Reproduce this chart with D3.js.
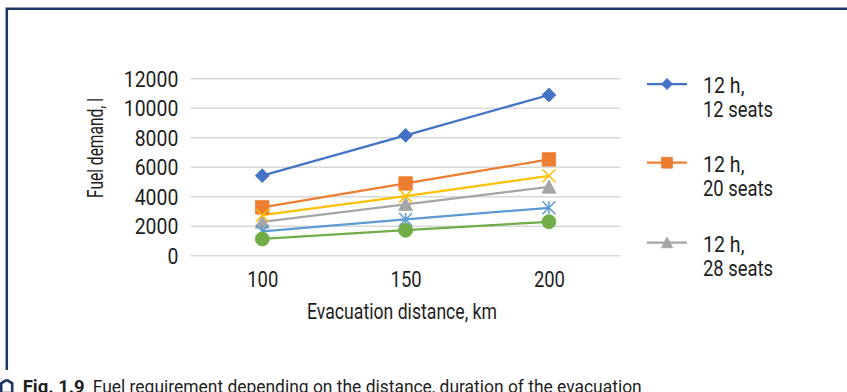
<!DOCTYPE html>
<html>
<head>
<meta charset="utf-8">
<script src="https://cdn.jsdelivr.net/npm/d3@7"></script>
<style>
  html, body { margin: 0; padding: 0; background: #fff; }
  svg { display: block; }
  text { font-family: "Roboto", "Noto Sans", sans-serif; fill: #1e1e1e; }
</style>
</head>
<body>
<svg id="chart" width="847" height="392"></svg>
<script>
// Evacuation distance categories (km)
const distances = ["100", "150", "200"];

// Fuel demand (litres) per series
const seriesNames = ["12 h, 12 seats", "12 h, 20 seats", "12 h, 28 seats", "series 4", "series 5", "series 6"];
const s12h12 = [5400, 8130, 10870];
const s12h20 = [3250, 4870, 6500];
const s12h28 = [2260, 3460, 4640];
const sYellow = [2720, 4010, 5390];
const sLightBlue = [1630, 2430, 3220];
const sGreen = [1110, 1700, 2270];

// Value-axis ticks
const yTicks = [0, 2000, 4000, 6000, 8000, 10000, 12000];

// Legend entries (two lines each)
const legendLabels = [["12 h,", "12 seats"], ["12 h,", "20 seats"], ["12 h,", "28 seats"]];

const svg = d3.select("#chart");

// Narrow the text to a given advance width (condensed typeface look)
function fitWidth(sel, w) {
  sel.each(function () {
    const target = typeof w === "function" ? w(this) : w;
    d3.select(this).attr("textLength", target).attr("lengthAdjust", "spacingAndGlyphs");
  });
}
const digitWidth = 10.9;

// Frame around the figure
svg.append("path")
  .attr("d", "M6.8,370 L6.8,8.7 L847,8.7")
  .attr("fill", "none")
  .attr("stroke", "#1c3764")
  .attr("stroke-width", 2.5);

const plot = { left: 190.6, right: 620.6, top: 78.3, bottom: 255.3 };

const x = d3.scaleBand().domain(distances).range([plot.left, plot.right]).paddingInner(0).paddingOuter(0);
const cx = d => x(d) + x.bandwidth() / 2;
const y = d3.scaleLinear().domain([0, 12000]).range([plot.bottom, plot.top]);

// Value axis with gridlines
const yAxis = svg.append("g")
  .attr("transform", `translate(${plot.left},0)`)
  .call(d3.axisLeft(y).tickValues(yTicks).tickFormat(d3.format("d"))
    .tickSize(-(plot.right - plot.left)).tickPadding(12.3));
yAxis.attr("font-family", null).attr("font-size", null);
yAxis.select(".domain").remove();
yAxis.selectAll("line").attr("stroke", "#d9d9d9").attr("stroke-width", 1.4);
yAxis.selectAll("text").attr("font-size", 22).attr("fill", "#1e1e1e").attr("dy", "0.355em")
  .call(fitWidth, node => node.textContent.length * digitWidth);

// Category axis
const xAxis = svg.append("g")
  .attr("transform", `translate(0,${plot.bottom})`)
  .call(d3.axisBottom(d3.scalePoint().domain(distances).range([cx("100"), cx("200")]))
    .tickSize(0).tickPadding(15.8));
xAxis.attr("font-family", null).attr("font-size", null);
xAxis.select(".domain").remove();
xAxis.selectAll("text").attr("font-size", 22).attr("fill", "#1e1e1e")
  .call(fitWidth, node => node.textContent.length * digitWidth * 0.95);

// Axis titles
svg.append("text")
  .attr("transform", "translate(103,148) rotate(-90)")
  .attr("text-anchor", "middle")
  .attr("font-size", 22)
  .text("Fuel demand, l")
  .call(fitWidth, 100);

svg.append("text")
  .attr("x", 402).attr("y", 318.5)
  .attr("text-anchor", "middle")
  .attr("font-size", 22)
  .text("Evacuation distance, km")
  .call(fitWidth, 190);

// Custom marker shapes
const diamond = {
  draw(ctx, size) {
    const r = Math.sqrt(size) / 2 * Math.SQRT2;
    ctx.moveTo(0, -r); ctx.lineTo(r, 0); ctx.lineTo(0, r); ctx.lineTo(-r, 0); ctx.closePath();
  }
};
const cross = {
  draw(ctx, size) {
    const r = Math.sqrt(size) / 2;
    ctx.moveTo(-r, -r); ctx.lineTo(r, r);
    ctx.moveTo(-r, r); ctx.lineTo(r, -r);
  }
};
const star = {
  draw(ctx, size) {
    const r = Math.sqrt(size) / 2;
    ctx.moveTo(-r, -r); ctx.lineTo(r, r);
    ctx.moveTo(-r, r); ctx.lineTo(r, -r);
    ctx.moveTo(0, -r); ctx.lineTo(0, r);
  }
};
const triangle = {
  draw(ctx, size) {
    const w = Math.sqrt(size);
    ctx.moveTo(0, -w * 0.5); ctx.lineTo(w / 2, w * 0.45); ctx.lineTo(-w / 2, w * 0.45); ctx.closePath();
  }
};

const series = [
  { name: seriesNames[0], values: s12h12, color: "#4472c4", shape: diamond, size: 96, filled: true },
  { name: seriesNames[1], values: s12h20, color: "#ed7d31", shape: d3.symbolSquare, size: 182, filled: true },
  { name: seriesNames[2], values: s12h28, color: "#a5a5a5", shape: triangle, size: 196, filled: true },
  { name: seriesNames[3], values: sYellow, color: "#ffc000", shape: cross, size: 169, filled: false },
  { name: seriesNames[4], values: sLightBlue, color: "#5b9bd5", shape: star, size: 169, filled: false },
  { name: seriesNames[5], values: sGreen, color: "#70ad47", shape: d3.symbolCircle, size: 154, filled: true }
];

const line = d3.line().x((d, i) => cx(distances[i])).y(d => y(d));

// Lines first, in series order
series.forEach(s => {
  svg.append("path")
    .datum(s.values)
    .attr("d", line)
    .attr("fill", "none")
    .attr("stroke", s.color)
    .attr("stroke-width", 2.25)
    .attr("stroke-linejoin", "round");
});

// Markers
series.forEach(s => {
  svg.append("g").selectAll("path")
    .data(s.values)
    .join("path")
    .attr("transform", (d, i) => `translate(${cx(distances[i])},${y(d)})`)
    .attr("d", d3.symbol().type(s.shape).size(s.size))
    .attr("fill", s.filled ? s.color : "none")
    .attr("stroke", s.color)
    .attr("stroke-width", s.filled ? 0.8 : 1.5);
});

// Legend
const legendY = [84, 162.7, 242.7];
const legend = svg.append("g");
legendLabels.forEach((lab, i) => {
  const s = series[i];
  const g = legend.append("g").attr("transform", `translate(0,${legendY[i]})`);
  g.append("line")
    .attr("x1", 647).attr("x2", 687)
    .attr("stroke", s.color).attr("stroke-width", 2.25);
  g.append("path")
    .attr("transform", "translate(667,0)")
    .attr("d", d3.symbol().type(s.shape).size(s.size * 0.65))
    .attr("fill", s.color).attr("stroke", s.color).attr("stroke-width", 0.8);
  g.append("text").attr("x", 703).attr("y", 8.8).attr("font-size", 22).text(lab[0]).call(fitWidth, 41.5);
  g.append("text").attr("x", 703).attr("y", 33.1).attr("font-size", 22).text(lab[1]).call(fitWidth, 70);
});

// Caption
svg.append("path")
  .attr("d", d3.line()([[6.7, 379.8], [12.2, 383.3], [12.2, 393], [1.2, 393], [1.2, 383.3], [6.7, 379.8]]))
  .attr("fill", "none").attr("stroke", "#1c3764").attr("stroke-width", 2.6);
svg.append("text")
  .attr("x", 22.7).attr("y", 392.6)
  .attr("font-size", 18.3).attr("font-weight", "bold")
  .attr("fill", "#1a1a1a")
  .text("Fig. 1.9")
  .call(fitWidth, 62);
svg.append("text")
  .attr("x", 92.7).attr("y", 392.6)
  .attr("font-size", 18.3)
  .attr("fill", "#2a2a2a")
  .text("Fuel requirement depending on the distance, duration of the evacuation")
  .call(fitWidth, 549);
</script>
</body>
</html>
